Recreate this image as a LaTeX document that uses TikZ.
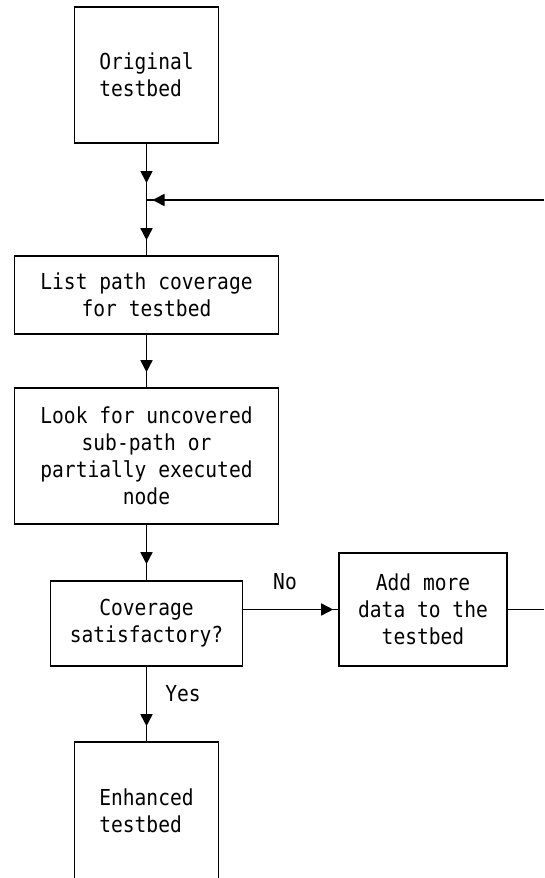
\documentclass[tikz,border=0pt]{standalone}
\usepackage{fontspec}
\newfontfamily\flowmono[FakeStretch=0.89]{DejaVu Sans Mono}
\usetikzlibrary{arrows.meta,decorations.markings}

\tikzset{
  flowtext/.style={font=\flowmono\fontsize{22}{27}\selectfont},
  box/.style={draw, line width=1.6pt, rectangle, flowtext, inner sep=0pt},
  link/.style={line width=1.6pt},
  tipat/.style={link, postaction={decorate},
    decoration={markings, mark=at position -#1 with {\arrow{Triangle[length=12pt,width=12pt]}}}},
  lbl/.style={flowtext}
}

\begin{document}
\begin{tikzpicture}[x=1pt,y=-1pt]
\useasboundingbox (0,0) rectangle (544,878);

% process boxes
\node[box, minimum width=144pt, minimum height=136pt, align=left] (orig) at (146.5,75) {Original\\testbed};
\node[box, minimum width=264pt, minimum height=78pt, align=center] (list) at (146.5,295) {List path coverage\\for testbed};
\node[box, minimum width=264pt, minimum height=136pt, align=center] (look) at (146.5,456) {Look for uncovered\\sub-path or\\partially executed\\node};
\node[box, minimum width=192pt, minimum height=85pt, align=center] (cov) at (146.5,623.5) {Coverage\\satisfactory?};
\node[box, minimum width=168pt, minimum height=113pt, align=center] (add) at (423,609.5) {Add more\\data to the\\testbed};
\node[box, minimum width=144pt, minimum height=137pt, align=left] (enh) at (146.5,810.5) {Enhanced\\testbed};

% junction where the loop rejoins the main flow
\coordinate (j) at (146.5,200);
\coordinate (loopout) at (544,609.5);
\coordinate (loopin) at (544,200);

% main flow
\draw[tipat=17pt] (orig.south) -- (j);
\draw[tipat=15pt] (j) -- (list.north);
\draw[tipat=15pt] (list.south) -- (look.north);
\draw[tipat=16pt] (look.south) -- (cov.north);
\draw[tipat=15pt] (cov.south) -- (enh.north);

% "No" branch and loop back
\draw[tipat=5pt] (cov.east |- add.west) -- (add.west);
\draw[link] (add.east) -- (loopout);
\draw[tipat=6pt] (loopin) -- (j);

% branch labels
\node[lbl] (no) at (285,582) {No};
\node[lbl] (yes) at (183,694) {Yes};
\end{tikzpicture}
\end{document}
